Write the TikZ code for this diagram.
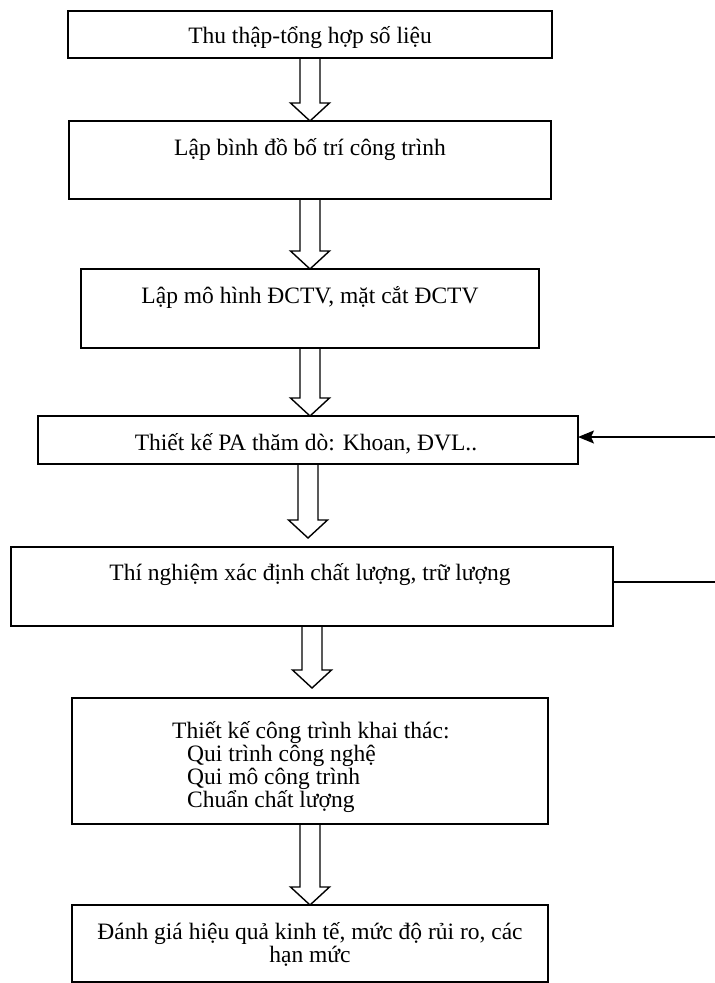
\documentclass[tikz,border=0pt]{standalone}
\usepackage{fontspec}
\setmainfont{Liberation Serif}
\usetikzlibrary{arrows.meta,calc}
\begin{document}
\begin{tikzpicture}[x=1pt,y=-1pt,
  box/.style={draw, line width=1.6pt, rectangle, inner sep=0pt, outer sep=0pt, anchor=north west},
  txt/.style={font=\fontsize{23.5}{23}\selectfont, inner sep=0pt},
  blk/.style={draw, line width=1.4pt, line join=miter},
  fb/.style={draw, line width=1.4pt}]
\useasboundingbox (0,0) rectangle (715,983);
% boxes
\node[box, minimum width=484pt, minimum height=47pt] (b1) at (68,11) {};
\node[box, minimum width=482pt, minimum height=78pt] (b2) at (69,121) {};
\node[box, minimum width=458pt, minimum height=79pt] (b3) at (81,269) {};
\node[box, minimum width=540pt, minimum height=48pt] (b4) at (38,416) {};
\node[box, minimum width=602pt, minimum height=79pt] (b5) at (11,547) {};
\node[box, minimum width=476pt, minimum height=126pt] (b6) at (72,698) {};
\node[box, minimum width=476pt, minimum height=77pt] (b7) at (72,905) {};
% texts
\node[txt, anchor=base] (t1) at (310,43) {Thu thập-tổng hợp số liệu};
\node[txt, anchor=base] (t2) at (310,155) {Lập bình đồ bố trí công trình};
\node[txt, anchor=base] (t3) at (310,303) {Lập mô hình ĐCTV, mặt cắt ĐCTV};
\node[txt, anchor=base] (t4) at (306,450) {Thiết kế PA thăm dò: Khoan, ĐVL..};
\node[txt, anchor=base] (t5) at (310,580) {Thí nghiệm xác định chất lượng, trữ lượng};
\node[txt, anchor=north west, align=left] (t6) at (172,721) {Thiết kế công trình khai thác:\\\hspace*{15pt}Qui trình công nghệ\\\hspace*{15pt}Qui mô công trình\\\hspace*{15pt}Chuẩn chất lượng};
\node[txt, anchor=north, align=center] (t7) at (310,922) {Đánh giá hiệu quả kinh tế, mức độ rủi ro, các\\hạn mức};
% block arrows
\newcommand\blkarrow[2]{%
  \draw[blk] let \p1=(#1), \p2=(#2) in
    (\x1-10pt,\y1) -- (\x1-10pt,\y2+18pt) -- (\x1-19.5pt,\y2+18pt) -- (\x1,\y2)
    -- (\x1+19.5pt,\y2+18pt) -- (\x1+10pt,\y2+18pt) -- (\x1+10pt,\y1);}
\blkarrow{b1.south}{b2.north}
\blkarrow{b2.south}{b3.north}
\blkarrow{b3.south}{b4.north}
\blkarrow{b4.south}{$(b5.north)+(0,-9)$}
\blkarrow{b5.south}{$(b6.north)+(0,-10)$}
\blkarrow{b6.south}{b7.north}
% feedback lines
\coordinate (r4) at (715,437);
\coordinate (r5) at (715,582);
\draw[fb, -{Stealth[length=16pt,width=13pt,inset=3pt]}] (r4) -- (r4 -| b4.east);
\draw[fb] (r5 -| b5.east) -- (r5);
\end{tikzpicture}
\end{document}
